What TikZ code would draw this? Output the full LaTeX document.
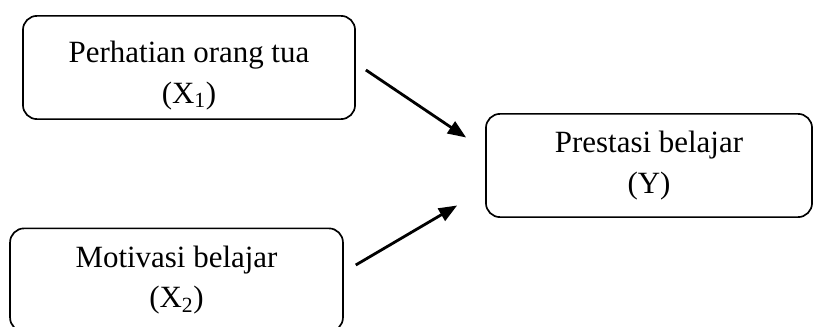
\documentclass[tikz,border=0pt]{standalone}
\usepackage{fontspec}
\setmainfont{Liberation Serif}
\usetikzlibrary{arrows.meta, positioning, calc}

\begin{document}
\begin{tikzpicture}[x=0.025cm, y=-0.025cm,
  varbox/.style={draw, line width=1.2pt, rounded corners=10pt, align=center, inner sep=0pt,
    minimum height=2.58cm, font=\fontsize{22}{29}\selectfont},
  panah/.style={-{Triangle[length=13pt, width=10pt]}, line width=2pt}]
  \useasboundingbox (0,0) rectangle (814,327);

  % Variabel bebas
  \node[varbox, minimum width=8.3cm] (perhatian) at (189, 67.5) {\rule{0pt}{27pt}Perhatian orang tua\\(X\textsubscript{1})};
  \node[varbox, minimum width=8.32cm] (motivasi) at (176.5, 280) {Motivasi belajar\\(X\textsubscript{2})};

  % Variabel terikat
  \node[varbox, minimum width=8.15cm] (prestasi) at (649, 165.5) {Prestasi belajar\\(Y)};

  % Panah pengaruh
  \coordinate (p1) at ($(perhatian.east)+(10,2.5)$);
  \coordinate (p2) at ($(motivasi.east)+(12,-15)$);
  \coordinate (q1) at ($(prestasi.west)+(-19,-28)$);
  \coordinate (q2) at ($(prestasi.west)+(-28,40)$);
  \draw[panah] (p1) -- (q1);
  \draw[panah] (p2) -- (q2);
\end{tikzpicture}
\end{document}
